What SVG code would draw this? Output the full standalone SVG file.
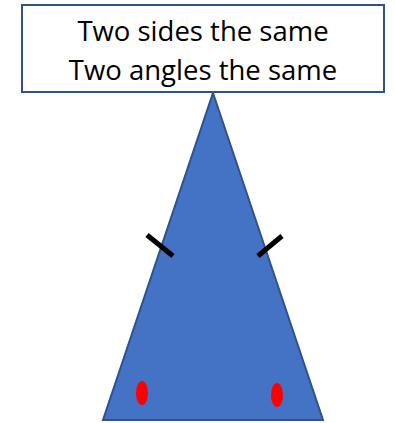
<svg xmlns="http://www.w3.org/2000/svg" width="395" height="423" viewBox="0 0 395 423">
<style>
.lbl{font-family:"Open Sans","Liberation Sans",sans-serif;font-size:27.5px;fill:#000;text-anchor:middle}
.tick{stroke:#000;stroke-width:5;fill:none}
.dot{fill:#FF0000}
</style>
<rect width="395" height="423" fill="#fff"/>
<g id="triangle">
<polygon points="213,93 323,420 103,420" fill="#4472C4" stroke="#2F528F" stroke-width="2"/>
</g>
<g id="marks">
<line class="tick" x1="147" y1="235" x2="173" y2="256"/>
<line class="tick" x1="282" y1="236" x2="258" y2="256"/>
<ellipse class="dot" cx="142" cy="393" rx="6" ry="12"/>
<ellipse class="dot" cx="277" cy="395" rx="6" ry="12"/>
</g>
<g id="label">
<rect x="22" y="5" width="362" height="87" fill="#fff" stroke="#2F528F" stroke-width="2"/>
<text class="lbl" x="203" y="41">Two sides the same</text>
<text class="lbl" x="203" y="80">Two angles the same</text>
</g>
</svg>
